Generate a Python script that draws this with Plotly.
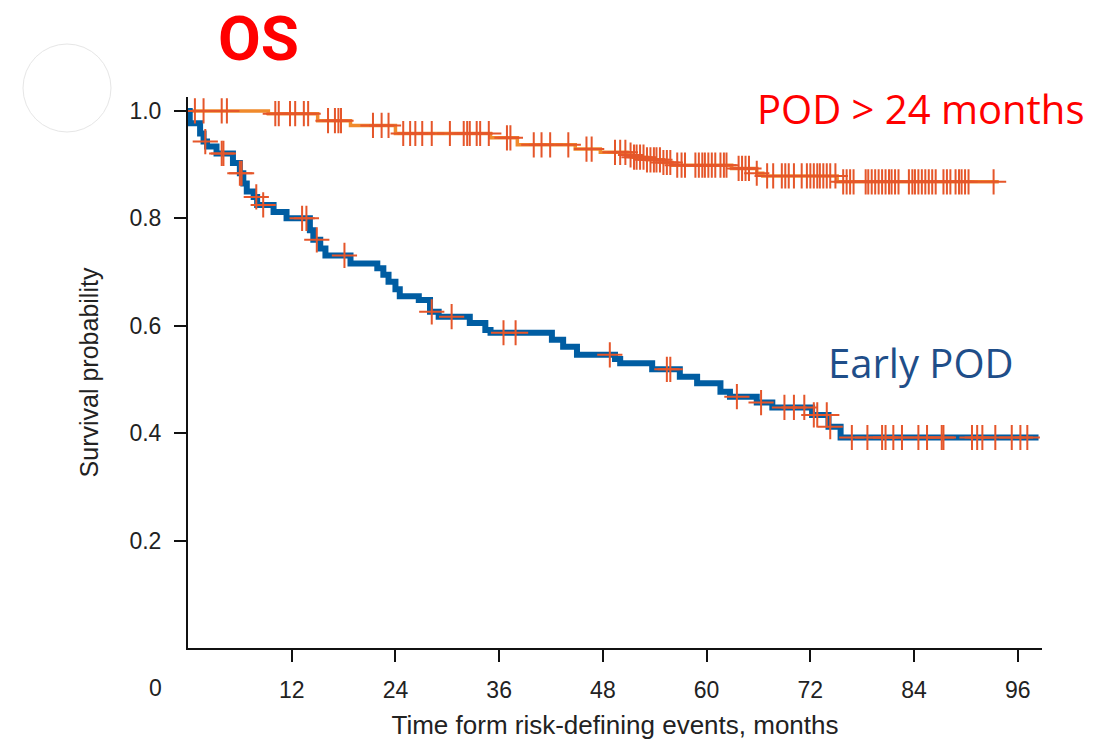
import numpy as np
import plotly.graph_objects as go

# ---------------- data ----------------
# Early POD (blue): step times (months) and survival after each step
early_times = [0, 0.2, 1.4, 1.8, 2.2, 3.3, 5.2, 6.0, 6.4, 6.8, 7.6, 8.0, 9.9, 11.4,
               14.1, 14.5, 15.3, 15.9, 18.8, 21.9, 22.6, 23.2, 24.0, 24.5, 26.7,
               28.0, 29.0, 32.6, 34.4, 35.0, 42.1, 43.4, 45.0, 49.4, 50.0, 53.7,
               56.9, 58.9, 61.6, 62.7, 65.8, 67.6, 72.2, 74.1, 75.5]
early_surv = [1.0, 0.977, 0.958, 0.943, 0.934, 0.921, 0.903, 0.884, 0.865, 0.850,
              0.840, 0.825, 0.812, 0.800, 0.778, 0.760, 0.744, 0.731, 0.716, 0.707,
              0.695, 0.682, 0.668, 0.655, 0.648, 0.626, 0.617, 0.605, 0.592, 0.587,
              0.574, 0.561, 0.546, 0.538, 0.530, 0.519, 0.505, 0.493, 0.477, 0.468,
              0.457, 0.448, 0.434, 0.412, 0.392]
early_end = 98.4
early_censor = [2.0, 3.9, 4.1, 6.0, 6.2, 7.9, 8.7, 13.2, 13.7, 14.9, 18.1, 28.2,
                30.5, 36.5, 37.9, 48.8, 55.4, 55.8, 63.5, 66.3, 69.0, 70.1, 71.3,
                72.4, 72.8, 73.9, 74.3, 76.8, 78.6, 80.3, 80.7, 81.6, 82.6, 84.5,
                85.5, 87.2, 87.4, 90.7, 91.3, 91.9, 93.4, 95.3, 96.3, 97.1]

# POD > 24 months (orange)
late_times = [0, 9.3, 15.0, 18.8, 24.0, 35.0, 38.1, 44.8, 47.7, 50.8, 51.5, 53.1,
              55.0, 56.0, 62.9, 65.8, 66.5, 75.1]
late_surv = [1.0, 0.995, 0.982, 0.973, 0.958, 0.950, 0.937, 0.929, 0.923, 0.918,
             0.914, 0.909, 0.904, 0.899, 0.893, 0.884, 0.879, 0.868]
late_end = 93.8
late_censor = [0.8, 1.8, 3.9, 4.5, 10.1, 10.5, 11.8, 12.4, 13.4, 13.9, 16.2, 17.0,
               17.4, 17.7, 21.4, 22.4, 23.2, 24.9, 25.7, 26.3, 27.1, 28.2, 30.3,
               31.9, 32.3, 32.6, 33.4, 33.8, 34.8, 36.9, 37.3, 40.0, 40.9, 41.9,
               44.0, 46.1, 46.7, 49.4, 50.0, 50.6, 51.2, 51.6, 51.9, 52.3, 52.7,
               53.1, 53.5, 53.9, 54.2, 54.6, 55.0, 55.4, 55.8, 56.6, 57.1, 57.5,
               58.7, 59.1, 59.5, 59.8, 60.2, 60.6, 61.0, 61.6, 62.0, 62.3, 63.7,
               64.1, 64.5, 64.9, 65.8, 67.0, 67.7, 68.7, 69.1, 69.5, 70.1, 71.0,
               71.6, 72.0, 72.4, 72.8, 73.1, 73.5, 73.9, 74.3, 74.9, 75.8, 76.2,
               76.6, 77.0, 78.4, 78.7, 79.1, 79.5, 79.9, 80.3, 80.7, 81.1, 81.4,
               81.8, 82.2, 83.4, 83.8, 84.1, 84.5, 84.9, 85.3, 85.7, 86.1, 86.5,
               87.4, 87.8, 88.2, 88.8, 89.2, 89.5, 89.9, 90.3, 93.2]

x_ticks = [12, 24, 36, 48, 60, 72, 84, 96]
y_ticks = [0.2, 0.4, 0.6, 0.8, 1.0]
y_ticktext = ["0.2", "0.4", "0.6", "0.8", "1.0"]

title_text = "OS"
label_late = "POD > 24 months"
label_early = "Early POD"
x_title = "Time form risk-defining events, months"
y_title = "Survival probability"

# ---------------- helpers ----------------
def surv_at(times, surv, t):
    idx = np.searchsorted(np.array(times), np.array(t), side="right") - 1
    return list(np.array(surv)[idx])

W, H = 1119, 742
L, R, T, B = 188, 1042, 97, 648
def px(xp):
    return (xp - L) / (R - L)
def py(yp):
    return (B - yp) / (B - T)

BLUE = "#005DA2"
ORANGE = "#F08A2C"
CENS = "#E5562A"
AX_FONT = "Liberation Sans, Arial, Helvetica, sans-serif"
TXT_FONT = "Open Sans, Noto Sans, sans-serif"

fig = go.Figure()

fig.add_trace(go.Scatter(
    x=late_times + [late_end], y=late_surv + [late_surv[-1]],
    mode="lines", line=dict(color=ORANGE, width=3.5, shape="hv"),
    hoverinfo="skip", showlegend=False))
fig.add_trace(go.Scatter(
    x=early_times + [early_end], y=early_surv + [early_surv[-1]],
    mode="lines", line=dict(color=BLUE, width=6, shape="hv"),
    hoverinfo="skip", showlegend=False))
fig.add_trace(go.Scatter(
    x=late_censor, y=surv_at(late_times, late_surv, late_censor),
    mode="markers",
    marker=dict(symbol="cross-thin", size=18, line=dict(color=CENS, width=2)),
    hoverinfo="skip", showlegend=False))
fig.add_trace(go.Scatter(
    x=early_censor, y=surv_at(early_times, early_surv, early_censor),
    mode="markers",
    marker=dict(symbol="cross-thin", size=18, line=dict(color=CENS, width=2)),
    hoverinfo="skip", showlegend=False))

def note(text, xp, yp, size, color, family=TXT_FONT):
    return dict(text=text, xref="paper", yref="paper", x=px(xp), y=py(yp),
                xanchor="center", yanchor="middle", showarrow=False,
                font=dict(family=family, size=size, color=color))

fig.update_layout(
    width=W, height=H,
    margin=dict(l=L, r=W - R, t=T, b=H - B),
    paper_bgcolor="white", plot_bgcolor="white",
    showlegend=False,
    xaxis=dict(
        range=[0, 98.8], tickvals=x_ticks, ticktext=[str(v) for v in x_ticks],
        ticks="outside", ticklen=12, tickwidth=2, tickcolor="#111",
        showline=True, linewidth=2, linecolor="#111", automargin=False,
        showgrid=False, zeroline=False, ticklabelstandoff=8,
        tickfont=dict(family=AX_FONT, size=23, color="#222"),
        title=dict(text=x_title, standoff=14,
                   font=dict(family=AX_FONT, size=26, color="#222")),
    ),
    yaxis=dict(
        range=[0, 1.026], tickvals=y_ticks, ticktext=y_ticktext,
        ticks="outside", ticklen=12, tickwidth=2, tickcolor="#111",
        showline=True, linewidth=2, linecolor="#111", automargin=False,
        showgrid=False, zeroline=False, ticklabelstandoff=8,
        tickfont=dict(family=AX_FONT, size=23, color="#222"),
        title=dict(text=y_title, standoff=24,
                   font=dict(family=AX_FONT, size=25, color="#222")),
    ),
    annotations=[
        note("<b>" + title_text + "</b>", 258, 38, 62, "#FF0000",
             "Roboto, Open Sans, sans-serif"),
        note(label_late, 920, 108, 40, "#FF0000"),
        note(label_early, 921, 362, 40, "#1F4E89"),
        note("0", 155, 688, 23, "#222", AX_FONT),
    ],
    shapes=[
        dict(type="circle", xref="paper", yref="paper",
             x0=px(23), x1=px(111), y0=py(132), y1=py(44),
             line=dict(color="#E6E6E6", width=1)),
    ],
)

fig.write_html("out.html", config={"displayModeBar": False},
               post_script="document.body.style.margin='0';")
